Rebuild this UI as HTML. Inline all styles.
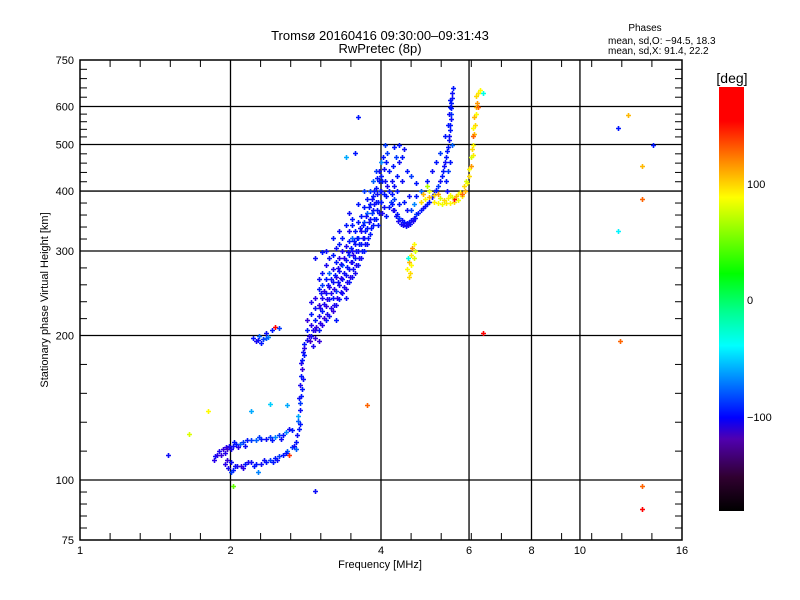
<!DOCTYPE html>
<html><head><meta charset="utf-8"><style>
html,body{margin:0;padding:0;background:#fff;}
svg{display:block;font-family:"Liberation Sans",sans-serif;}
</style></head><body>
<svg id="chart" width="800" height="600" viewBox="0 0 800 600" xmlns="http://www.w3.org/2000/svg">
<defs><linearGradient id="cb" x1="0" y1="1" x2="0" y2="0">
<stop offset="0" stop-color="#000000"/><stop offset="0.08" stop-color="#300030"/><stop offset="0.17" stop-color="#5000b0"/><stop offset="0.22" stop-color="#0000ff"/><stop offset="0.39" stop-color="#00ffff"/><stop offset="0.47" stop-color="#00ff90"/><stop offset="0.56" stop-color="#00ff00"/><stop offset="0.74" stop-color="#ffff00"/><stop offset="0.82" stop-color="#ff9000"/><stop offset="0.92" stop-color="#ff0000"/><stop offset="1" stop-color="#ff0000"/></linearGradient></defs>
<text x="380" y="40" font-size="13" text-anchor="middle">Tromsø 20160416 09:30:00–09:31:43</text>
<text x="380" y="53" font-size="13" text-anchor="middle">RwPretec (8p)</text>
<g font-size="10">
<text x="645" y="31" text-anchor="middle">Phases</text>
<text x="608" y="44">mean, sd,O: −94.5, 18.3</text>
<text x="608" y="54">mean, sd,X:  91.4, 22.2</text>
</g>
<g id="grid"></g>
<g id="axes"></g>
<g id="points"></g>
<text x="380" y="568" font-size="11" text-anchor="middle">Frequency [MHz]</text>
<text transform="translate(48,300) rotate(-90)" font-size="11" text-anchor="middle">Stationary phase Virtual Height [km]</text>
<g>
<rect x="719" y="87" width="25" height="424" fill="url(#cb)"/>
<text x="732" y="83" font-size="14" text-anchor="middle">[deg]</text>
<text x="747" y="188" font-size="11">100</text>
<text x="747" y="304" font-size="11">0</text>
<text x="747" y="421" font-size="11">−100</text>
</g>
</svg>
<script>
const xTicks=[1,2,4,6,8,10,16];
const xGrid=[2,4,6,8,10];
const yTicks=[75,100,200,300,400,500,600,750];
const yGrid=[100,200,300,400,500,600];
// [freq MHz, height km, phase deg]
const eLayerUpper=[[1.85,110,-130],[1.86,112,-110],[1.88,113,-130],[1.9,115,-120],[1.93,116,-140],[1.96,117,-130],[1.99,118,-120],[2.02,118,-110],[2.05,119,-100],[2.09,119,-80],[2.12,120,-90],[2.16,121,-100],[2.2,121,-90],[2.25,121,-80],[2.3,122,-100],[2.35,122,-110],[2.4,123,-90],[2.45,123,-70],[2.5,124,-90],[2.55,124,-100],[1.97,116,-150],[2.07,117,-130],[1.91,113,-140],[1.95,114,-130],[2.0,116,-120],[2.03,120,-100],[2.14,118,-110],[2.28,123,-90],[2.42,121,-100],[2.52,122,-110],[2.58,126,-70],[2.62,128,-110],[2.66,127,-100]];
const eLayerLower=[[1.95,108,-130],[1.98,106,-120],[2.0,109,-110],[2.02,105,-100],[2.06,107,-120],[2.1,107,-140],[2.14,108,-100],[2.2,109,-110],[2.25,108,-100],[2.3,108,-110],[2.35,109,-100],[2.4,110,-90],[2.45,111,-100],[2.5,112,-90],[2.55,113,-100],[2.6,115,-80],[2.65,117,-90],[2.7,120,-100],[2.72,124,-110],[2.62,113,140],[2.0,104,-90],[2.27,104,-70],[2.12,106,-130],[1.97,110,-140],[2.04,107,-110],[2.17,109,-120],[2.23,107,-100],[2.33,110,-110],[2.43,109,-100],[2.48,110,-110],[2.58,114,-100],[2.68,118,-110],[2.7,116,-80]];
const riseTrace=[[2.74,128,-100],[2.73,133,-80],[2.75,140,-110],[2.76,145,-90],[2.77,150,-100],[2.76,158,-120],[2.77,165,-100],[2.78,170,-140],[2.78,178,-100],[2.79,185,-110],[2.8,192,-100],[2.73,136,-60],[2.75,131,-100],[2.74,148,-110],[2.78,155,-100],[2.79,162,-110],[2.77,175,-120],[2.8,182,-100],[2.81,188,-130]];
const smallCluster=[[2.22,198,-100],[2.25,195,-120],[2.28,200,-80],[2.32,197,-90],[2.35,202,-110],[2.38,199,-70],[2.42,205,-100],[2.45,208,170],[2.5,207,-90],[2.3,193,-100],[2.27,196,-110],[2.36,198,-80]];
const cloud=[[2.85,196,-120],[2.85,205,-100],[2.85,215,-140],[2.9,200,-110],[2.9,210,-130],[2.9,222,-100],[2.9,235,-120],[2.95,198,-140],[2.95,215,-100],[2.95,228,-110],[2.95,240,-130],[3.0,205,-100],[3.0,220,-120],[3.0,232,-140],[3.0,250,-100],[3.0,262,-110],[3.05,210,-130],[3.05,225,-100],[3.05,240,-120],[3.05,255,-90],[3.05,270,-110],[3.1,215,-100],[3.1,230,-140],[3.1,245,-110],[3.1,262,-100],[3.1,280,-120],[3.15,220,-110],[3.15,238,-100],[3.15,252,-130],[3.15,270,-80],[3.15,290,-110],[3.2,225,-140],[3.2,240,-100],[3.2,258,-110],[3.2,275,-120],[3.2,295,-100],[3.25,232,-120],[3.25,248,-90],[3.25,265,-140],[3.25,285,-100],[3.25,305,-110],[3.3,238,-100],[3.3,255,-120],[3.3,272,-110],[3.3,290,-130],[3.3,310,-100],[3.35,245,-110],[3.35,262,-100],[3.35,280,-80],[3.35,300,-120],[3.35,320,-100],[3.4,250,-130],[3.4,268,-110],[3.4,288,-100],[3.4,308,-120],[3.45,258,-100],[3.45,275,-110],[3.45,295,-90],[3.45,315,-100],[3.45,330,-120],[3.5,265,-110],[3.5,285,-100],[3.5,300,-120],[3.5,320,-80],[3.5,340,-100],[3.55,270,-120],[3.55,290,-100],[3.55,310,-110],[3.55,330,-100],[3.6,280,-100],[3.6,300,-110],[3.6,320,-90],[3.6,345,-100],[3.65,290,-110],[3.65,310,-100],[3.65,330,-120],[3.65,355,-100],[3.7,300,-100],[3.7,320,-110],[3.7,345,-90],[3.7,370,-100],[3.75,310,-110],[3.75,335,-100],[3.75,360,-80],[3.75,385,-100],[3.8,325,-100],[3.8,350,-110],[3.8,375,-100],[3.8,400,-90],[3.85,340,-100],[3.85,365,-110],[3.85,390,-100],[3.85,420,-80],[3.9,350,-100],[3.9,380,-110],[3.9,405,-100],[3.9,440,-90],[2.95,290,-110],[3.05,298,-100],[3.5,350,-100],[3.6,570,-100],[3.55,480,-100],[3.25,215,-100],[3.4,240,-110],[2.88,195,-150],[2.92,190,-120]];
const cloudFill=[[2.87,200,-130],[2.92,205,-120],[2.97,208,-140],[3.02,212,-130],[3.02,228,-120],[3.03,245,-110],[3.07,218,-140],[3.07,233,-120],[3.08,248,-130],[3.12,222,-120],[3.12,238,-130],[3.13,255,-110],[3.17,228,-130],[3.18,245,-120],[3.18,262,-110],[3.22,232,-120],[3.22,250,-130],[3.23,268,-100],[3.27,240,-130],[3.28,258,-110],[3.28,276,-120],[3.32,246,-120],[3.33,264,-130],[3.33,282,-110],[3.37,252,-120],[3.38,270,-110],[3.38,290,-130],[3.42,258,-120],[3.42,278,-100],[3.43,298,-110],[3.47,265,-130],[3.48,285,-120],[3.48,305,-100],[3.52,275,-110],[3.52,295,-130],[3.53,315,-100],[3.57,280,-120],[3.57,300,-110],[3.58,320,-100],[3.62,290,-120],[3.62,310,-100],[3.63,335,-110],[3.67,300,-100],[3.68,320,-110],[3.68,340,-100],[3.72,310,-110],[3.72,330,-100],[3.73,355,-110],[3.77,320,-100],[3.78,345,-110],[3.78,370,-100],[3.82,335,-100],[3.83,360,-90],[3.83,385,-110],[3.87,350,-100],[3.88,375,-110],[3.88,400,-100],[3.92,365,-100],[3.93,395,-110],[3.93,425,-100],[3.1,300,-110],[3.2,320,-100],[3.3,330,-110],[3.4,340,-100],[3.45,360,-110],[3.6,375,-100],[3.7,400,-90],[3.0,195,-140],[2.95,205,-130]];
const fTrace=[[3.95,340,-100],[3.97,360,-110],[4.0,380,-100],[3.98,400,-90],[4.02,420,-100],[4.05,445,-110],[4.03,470,-100],[4.08,500,-90],[4.1,390,-100],[4.12,410,-120],[4.15,440,-100],[4.0,460,-70],[3.96,420,-100],[4.05,370,-110],[4.1,355,-100],[4.18,380,-90],[4.25,495,-100],[4.35,500,-100],[4.45,490,-110],[3.95,380,-100],[3.97,440,-110],[4.0,400,-110],[4.0,430,-100],[4.02,360,-120],[4.05,395,-100],[4.07,420,-110],[4.1,460,-100],[4.12,480,-90],[4.15,400,-100],[4.2,420,-110],[4.22,450,-100],[4.28,470,-90],[4.3,430,-100],[4.35,460,-110],[4.4,470,-100],[4.2,395,-100],[4.25,410,-110]];
const cuspBlue=[[4.2,375,-100],[4.25,365,-110],[4.3,358,-100],[4.35,352,-90],[4.4,348,-110],[4.45,345,-100],[4.5,343,-120],[4.55,345,-100],[4.6,348,-110],[4.65,352,-100],[4.7,358,-90],[4.8,365,-100],[4.9,372,-110],[5.0,380,-100],[5.1,395,-100],[5.2,410,-90],[5.3,430,-100],[5.35,450,-110],[5.4,470,-100],[5.45,495,-100],[5.48,520,-110],[5.5,550,-100],[5.52,580,-90],[5.53,610,-100],[5.55,640,-110],[4.3,400,-100],[4.4,420,-110],[4.5,440,-100],[4.6,430,-90],[4.7,415,-100],[4.8,400,-80],[4.95,420,-100],[5.05,440,-110],[5.15,460,-100],[5.25,480,-90],[4.45,380,-100],[4.55,390,-110],[4.65,375,-70],[5.4,420,-100],[5.45,440,-90],[5.42,400,-110],[5.5,460,-100],[5.38,520,-100],[5.55,500,-80],[5.5,600,-100],[4.22,365,-120],[4.28,355,-110],[4.33,346,-120],[4.38,342,-110],[4.43,340,-120],[4.48,338,-110],[4.53,340,-120],[4.58,342,-110],[4.63,346,-120],[4.68,352,-110],[4.75,360,-100],[4.85,368,-110],[4.95,376,-100],[5.05,388,-110],[5.15,402,-100],[5.25,420,-110],[5.32,440,-100],[5.38,460,-110],[5.43,485,-100],[5.47,510,-110],[5.5,535,-100],[5.52,565,-110],[5.53,595,-100],[5.55,625,-110],[5.56,655,-100],[5.45,550,-100],[5.47,580,-110],[5.5,620,-100],[4.15,370,-100],[4.25,385,-90],[4.35,375,-100],[4.5,365,-110],[4.6,365,-90],[4.7,390,-100]];
const xTrace=[[4.8,380,100],[4.9,385,90],[5.0,388,110],[5.1,380,95],[5.2,378,90],[5.3,376,85],[5.4,377,95],[5.5,378,90],[5.6,380,100],[5.7,384,85],[5.8,390,95],[5.9,400,110],[5.95,415,90],[6.0,430,100],[6.05,450,120],[6.1,475,95],[6.12,500,90],[6.15,525,110],[6.18,550,100],[6.2,580,90],[6.22,610,120],[6.25,640,95],[5.0,400,80],[5.2,395,120],[5.5,392,90],[5.7,395,85],[5.85,410,100],[6.05,470,80],[6.1,520,130],[6.2,600,110],[4.95,410,70],[5.6,385,150],[6.3,650,90],[5.25,386,80],[5.35,384,100],[5.45,386,90],[5.55,388,80],[5.65,390,110],[5.75,398,90],[5.82,395,130],[5.92,420,80],[6.0,445,90],[6.08,490,100],[6.12,540,90],[6.15,570,110],[6.2,630,100],[6.25,600,130],[5.1,392,100],[4.85,395,110]];
const yellowPatch=[[4.5,275,90],[4.55,285,110],[4.6,295,95],[4.62,305,120],[4.65,310,90],[4.58,270,100],[4.52,290,-30],[4.68,300,80],[4.55,265,100],[4.6,280,90],[4.65,290,80]];
const outliers=[[11.9,540,-100],[12.5,575,110],[13.3,450,110],[13.3,385,130],[11.9,330,-40],[12,195,130],[13.3,97,130],[13.3,87,160],[14,500,-100],[6.4,202,160],[3.75,143,130],[1.5,113,-110],[1.65,125,80],[1.8,139,90],[2.4,144,-50],[2.6,143,-60],[2.95,95,-110],[2.02,97,50],[2.2,139,-60],[3.4,470,-60],[6.4,640,-30]];
const series=[eLayerUpper,eLayerLower,riseTrace,smallCluster,cloud,cloudFill,fTrace,cuspBlue,xTrace,yellowPatch,outliers];

const L=80,R=682,T=60,B=540;
function xs(f){return L+(R-L)*Math.log(f)/Math.log(16);}
function ys(h){return B-(B-T)*Math.log10(h/75);}
const stops=[[-180,[0,0,0]],[-155,[70,0,200]],[-130,[40,0,235]],[-100,[0,20,255]],[-37,[0,255,255]],[-10,[0,255,150]],[26,[0,255,0]],[89,[255,255,0]],[120,[255,150,0]],[150,[255,0,0]],[180,[255,0,0]]];
function col(p){for(let i=1;i<stops.length;i++){if(p<=stops[i][0]){const a=stops[i-1],b=stops[i],t=(p-a[0])/(b[0]-a[0]);const c=a[1].map((v,k)=>Math.round(v+(b[1][k]-v)*t));return `rgb(${c})`;}}return 'rgb(255,0,0)';}
const NS='http://www.w3.org/2000/svg';
function mk(tag,attrs,parent){const e=document.createElementNS(NS,tag);for(const k in attrs)e.setAttribute(k,attrs[k]);parent.appendChild(e);return e;}
const grid=document.getElementById('grid'),axes=document.getElementById('axes'),pts=document.getElementById('points');
xGrid.forEach(v=>{const l=mk('line',{x1:xs(v),x2:xs(v),y1:T,y2:B,stroke:'#000','stroke-width':1.3},grid);

});
yGrid.forEach(v=>{const l=mk('line',{x1:L,x2:R,y1:ys(v),y2:ys(v),stroke:'#000','stroke-width':1.3},grid);

});
const fr=mk('rect',{x:L,y:T,width:R-L,height:B-T,fill:'none',stroke:'#000','stroke-width':1.5},axes);


for(let k=1;k<20;k++){const x=L+(R-L)*k/20;mk('line',{x1:x,x2:x,y1:B,y2:B-7,stroke:'#000'},axes);mk('line',{x1:x,x2:x,y1:T,y2:T+7,stroke:'#000'},axes);}
for(let i=0;i<yTicks.length-1;i++){const a=ys(yTicks[i]),b=ys(yTicks[i+1]);for(let k=1;k<5;k++){const y=a+(b-a)*k/5;mk('line',{x1:L,x2:L+7,y1:y,y2:y,stroke:'#000'},axes);mk('line',{x1:R,x2:R-7,y1:y,y2:y,stroke:'#000'},axes);}}
xTicks.forEach(v=>{const t=mk('text',{x:xs(v),y:554,'font-size':11,'text-anchor':'middle'},axes);t.textContent=v;

});
yTicks.forEach(v=>{const t=mk('text',{x:74,y:ys(v)+4,'font-size':11,'text-anchor':'end'},axes);t.textContent=v;

});
series.forEach(s=>s.forEach(p=>{const x=Math.round(xs(p[0]))+0.5,y=Math.round(ys(p[1]))+0.5;
const m=mk('path',{d:`M${x-2.5} ${y}h5M${x} ${y-2.5}v5`,stroke:col(p[2]),'stroke-width':1.6},pts);

}));
</script>
</body></html>
